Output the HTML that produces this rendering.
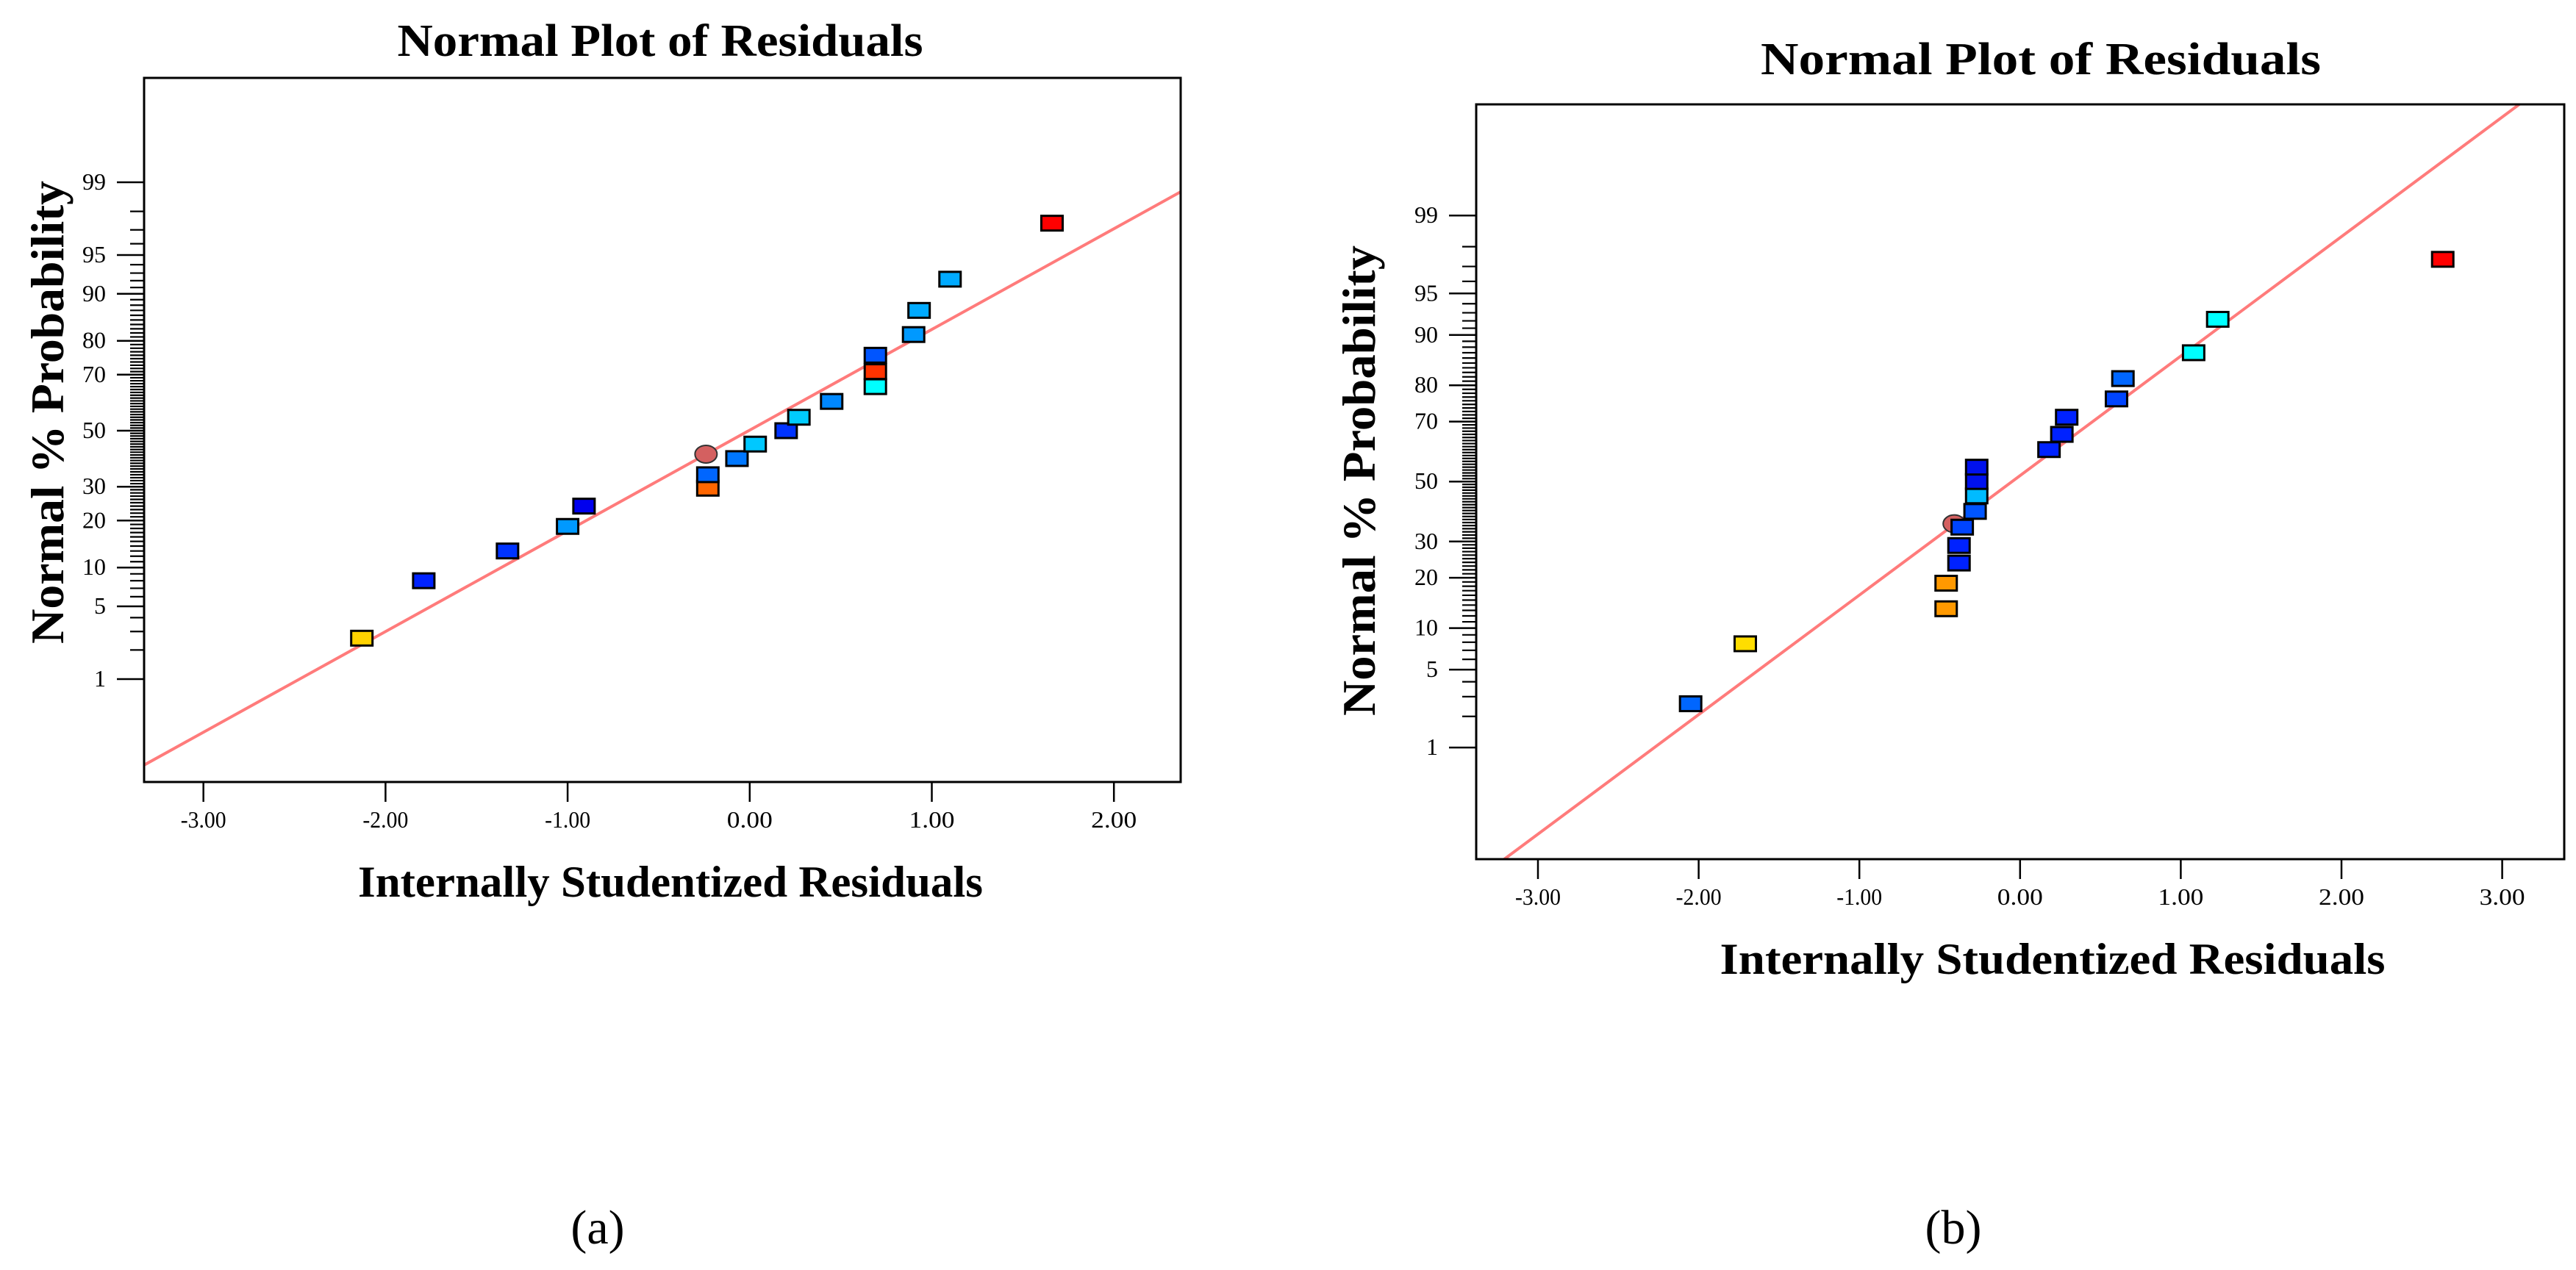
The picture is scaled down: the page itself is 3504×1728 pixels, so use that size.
<!DOCTYPE html>
<html><head><meta charset="utf-8"><style>
html,body{margin:0;padding:0;background:#fff;}
svg{display:block;}
text{font-family:"Liberation Serif",serif;}
</style></head>
<body>
<svg id="fig" width="3504" height="1728" viewBox="0 0 3504 1728" xmlns="http://www.w3.org/2000/svg">
<rect x="0" y="0" width="3504" height="1728" fill="#fff"/>
</svg>
<script>
// ---------- data: chart (a) ----------
const aResiduals = [-2.13,-1.79,-1.33,-1.00,-0.91,-0.23,-0.23,-0.07,0.03,0.20,0.27,0.45,0.69,0.69,0.69,0.90,0.93,1.10,1.66];
const aProbs     = [2.6,8,13,18.5,24,29.5,34,39.7,45,50,55,60.8,66,71,76,81.6,87,92.2,97.4];
const aColors    = ["#ffd200","#0022ff","#0033ff","#0099ff","#0000ee","#ff6600","#0066ff","#0077ff","#00c8ff","#0033ff","#00ccff","#0088ff","#00ffff","#ff3300","#0055ff","#0099ff","#00aaff","#00aaff","#ff0000"];
const aCircle    = [-0.24, 41.3];
const aFit       = [0.943, 0.005]; // slope, intercept (z = slope*x + intercept)
// ---------- data: chart (b) ----------
const bResiduals = [-2.05,-1.71,-0.46,-0.46,-0.38,-0.38,-0.36,-0.28,-0.27,-0.27,-0.27,0.18,0.26,0.29,0.60,0.64,1.08,1.23,2.63];
const bProbs     = [2.6,7.8,13.3,18.7,23.8,28.8,34.5,39.7,45,50,55,61,66,71.3,76.5,81.6,87,92.2,97.4];
const bColors    = ["#0066ff","#ffdd00","#ff9900","#ff9900","#0022ff","#0022ff","#0044ff","#0055ff","#00bbff","#0011ee","#0011ee","#0022ff","#0022ff","#0022ff","#0044ff","#0066ff","#00ffff","#00ffff","#ff0000"];
const bCircle    = [-0.41, 35.6];
const bFit       = [1.045, 0.052];
// ---------- ticks ----------
const yTickVals  = [1,5,10,20,30,50,70,80,90,95,99];
const aXTicks    = [-3,-2,-1,0,1,2];
const bXTicks    = [-3,-2,-1,0,1,2,3];

const NS="http://www.w3.org/2000/svg";
const svg=document.getElementById('fig');
function mk(tag,attrs,parent){const e=document.createElementNS(NS,tag);for(const k in attrs)e.setAttribute(k,attrs[k]);(parent||svg).appendChild(e);return e;}

function probit(p){
  const a=[-3.969683028665376e+01,2.209460984245205e+02,-2.759285104469687e+02,1.383577518672690e+02,-3.066479806614716e+01,2.506628277459239e+00];
  const b=[-5.447609879822406e+01,1.615858368580409e+02,-1.556989798598866e+02,6.680131188771972e+01,-1.328068155288572e+01];
  const c=[-7.784894002430293e-03,-3.223964580411365e-01,-2.400758277161838e+00,-2.549732539343734e+00,4.374664141464968e+00,2.938163982698783e+00];
  const d=[7.784695709041462e-03,3.224671290700398e-01,2.445134137142996e+00,3.754408661907416e+00];
  const pl=0.02425;let q,r;
  if(p<pl){q=Math.sqrt(-2*Math.log(p));return (((((c[0]*q+c[1])*q+c[2])*q+c[3])*q+c[4])*q+c[5])/((((d[0]*q+d[1])*q+d[2])*q+d[3])*q+1);}
  if(p<=1-pl){q=p-0.5;r=q*q;return (((((a[0]*r+a[1])*r+a[2])*r+a[3])*r+a[4])*r+a[5])*q/(((((b[0]*r+b[1])*r+b[2])*r+b[3])*r+b[4])*r+1);}
  q=Math.sqrt(-2*Math.log(1-p));return -(((((c[0]*q+c[1])*q+c[2])*q+c[3])*q+c[4])*q+c[5])/((((d[0]*q+d[1])*q+d[2])*q+d[3])*q+1);
}

function drawChart(cfg){
  const g=mk('g',{});
  
  
  const X=v=>cfg.x0+v*cfg.xu;
  const Y=p=>cfg.yc-probit(p/100)*cfg.yu;
  const Yz=z=>cfg.yc-z*cfg.yu;
  // title
  const t=mk('text',{x:cfg.titleX,y:cfg.titleY,'text-anchor':'middle','font-size':62,'font-weight':'bold',textLength:cfg.titleW,lengthAdjust:'spacingAndGlyphs'},g);
  t.textContent='Normal Plot of Residuals';
  
  // fit line (clipped)
  const cp=mk('clipPath',{id:cfg.name+'-clip'},g);
  mk('rect',{x:cfg.L,y:cfg.T,width:cfg.R-cfg.L,height:cfg.B-cfg.T},cp);
  const xl=(cfg.L-cfg.x0)/cfg.xu, xr=(cfg.R-cfg.x0)/cfg.xu;
  const ln=mk('line',{x1:cfg.L,y1:Yz(cfg.fit[0]*xl+cfg.fit[1]),x2:cfg.R,y2:Yz(cfg.fit[0]*xr+cfg.fit[1]),stroke:'#ff7b7b','stroke-width':4,'clip-path':'url(#'+cfg.name+'-clip)'},g);
  
  // frame
  const fr=mk('rect',{x:cfg.L,y:cfg.T,width:cfg.R-cfg.L,height:cfg.B-cfg.T,fill:'none',stroke:'#000','stroke-width':3},g);
  
  // minor y ticks
  for(let p=2;p<=98;p++){
    if(yTickVals.includes(p))continue;
    mk('line',{x1:cfg.L-19,y1:Y(p),x2:cfg.L,y2:Y(p),stroke:'#000','stroke-width':2.2},g);
  }
  yTickVals.forEach(p=>{
    mk('line',{x1:cfg.L-37,y1:Y(p),x2:cfg.L,y2:Y(p),stroke:'#000','stroke-width':2.5},g);
    const tl=mk('text',{x:cfg.L-52,y:Y(p)+10,'text-anchor':'end','font-size':32},g);
    tl.textContent=String(p);
    
  });
  cfg.xticks.forEach(v=>{
    mk('line',{x1:X(v),y1:cfg.B,x2:X(v),y2:cfg.B+27,stroke:'#000','stroke-width':2.5},g);
    const tl=mk('text',{x:X(v),y:cfg.B+62,'text-anchor':'middle','font-size':32,textLength:62,lengthAdjust:'spacingAndGlyphs'},g);
    tl.textContent=v.toFixed(2);
    
  });
  // axis titles
  const xt=mk('text',{x:cfg.xtX,y:cfg.xtY,'text-anchor':'middle','font-size':60,'font-weight':'bold',textLength:cfg.xtW,lengthAdjust:'spacingAndGlyphs','xml:space':'preserve'},g);
  xt.textContent='Internally  Studentized  Residuals';
  
  const yt=mk('text',{x:0,y:0,'text-anchor':'middle','font-size':64,'font-weight':'bold',textLength:cfg.ytW,lengthAdjust:'spacingAndGlyphs',transform:'translate('+cfg.ytX+','+cfg.ytY+') rotate(-90)'},g);
  yt.textContent='Normal % Probability';
  
  // circle point
  const ci=mk('ellipse',{cx:X(cfg.circle[0]),cy:Y(cfg.circle[1]),rx:15,ry:12,fill:'#d46060',stroke:'#333','stroke-width':2},g);
  
  // square points
  cfg.xs.forEach((v,i)=>{
    const r=mk('rect',{x:X(v)-14.5,y:Y(cfg.ps[i])-10,width:29,height:20,fill:cfg.colors[i],stroke:'#000','stroke-width':3},g);
    
    
  });
}

drawChart({name:'chart-a',L:196,T:106,R:1606,B:1064,x0:1019.8,xu:247.7,yc:586,yu:145.3,
  xs:aResiduals,ps:aProbs,colors:aColors,circle:aCircle,fit:aFit,xticks:aXTicks,
  titleX:898,titleY:76,titleW:715,xtX:912,xtY:1220,xtW:850,ytX:86,ytY:561,ytW:630});
drawChart({name:'chart-b',L:2008,T:142,R:3488,B:1169,x0:2747.8,xu:218.6,yc:655.2,yu:155.6,
  xs:bResiduals,ps:bProbs,colors:bColors,circle:bCircle,fit:bFit,xticks:bXTicks,
  titleX:2776,titleY:101,titleW:762,xtX:2792,xtY:1325,xtW:905,ytX:1870,ytY:654,ytW:640});

const la=mk('text',{x:813,y:1692,'text-anchor':'middle','font-size':66},svg);
la.textContent='(a)';

const lb=mk('text',{x:2657,y:1692,'text-anchor':'middle','font-size':66},svg);
lb.textContent='(b)';

</script>
</body></html>
